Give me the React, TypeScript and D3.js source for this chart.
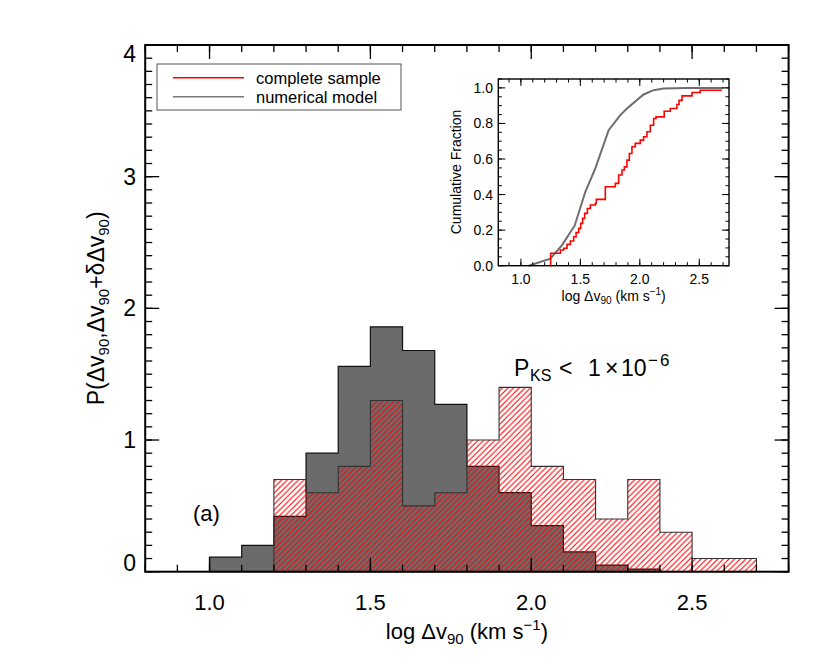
import React from 'react';
import * as d3 from 'd3';

// histogram bins (left edges, width 0.1)
const modelBinStart = 1.0;
const modelVals = [0.11, 0.2, 0.42, 0.9, 1.56, 1.86, 1.68, 1.27, 0.8, 0.6, 0.35, 0.15, 0.05, 0.02];
const sampleBinStart = 1.2;
const sampleVals = [0.7, 0.6, 0.8, 1.3, 0.5, 0.6, 1.0, 1.4, 0.8, 0.7, 0.4, 0.7, 0.3, 0.1, 0.1];
const binWidth = 0.1;

// inset: cumulative fractions
const sampleCdfX = [1.248, 1.25, 1.332, 1.36, 1.388, 1.416, 1.444, 1.464, 1.486, 1.503, 1.519, 1.536, 1.559, 1.584,
  1.626, 1.634, 1.71, 1.794, 1.822, 1.85, 1.87, 1.892, 1.912, 1.934, 1.962, 2.004, 2.032, 2.06, 2.088, 2.116, 2.136,
  2.205, 2.256, 2.312, 2.33, 2.355, 2.439, 2.508, 2.69];
const sampleCdfY = [0.0, 0.07, 0.088, 0.098, 0.12, 0.139, 0.163, 0.186, 0.21, 0.238, 0.266, 0.294, 0.322, 0.341,
  0.35, 0.373, 0.444, 0.463, 0.51, 0.538, 0.556, 0.594, 0.631, 0.669, 0.688, 0.706, 0.725, 0.753, 0.79, 0.828, 0.837,
  0.869, 0.884, 0.907, 0.93, 0.955, 0.974, 0.987, 0.987];
const modelCdfX = [1.066, 1.248, 1.346, 1.452, 1.542, 1.626, 1.738, 1.836, 1.892, 2.032, 2.116, 2.2, 2.4, 2.704];
const modelCdfY = [0.0, 0.04, 0.116, 0.225, 0.416, 0.547, 0.762, 0.847, 0.884, 0.963, 0.987, 0.997, 1.0, 1.0];

const xMajor = [1.0, 1.5, 2.0, 2.5];
const yMajor = [0, 1, 2, 3, 4];
const insetYMajor = [0, 0.2, 0.4, 0.6, 0.8, 1.0];
const legendLabels = ['complete sample', 'numerical model'];

const FONT = '"Liberation Sans", Arial, Helvetica, sans-serif';
const RED = '#ff0000';
const GRAY = '#6b6b6b';

function stepPath(start: number, vals: number[], x: any, y: any) {
  const pts: [number, number][] = [[start, 0]];
  vals.forEach((v, i) => {
    pts.push([start + i * binWidth, v]);
    pts.push([start + (i + 1) * binWidth, v]);
  });
  pts.push([start + vals.length * binWidth, 0]);
  return d3.line().x((d: any) => x(d[0])).y((d: any) => y(d[1]))(pts as any) + 'Z';
}

export default function App() {
  // main panel
  const x = d3.scaleLinear().domain([0.8, 2.8]).range([145.2, 788.6]);
  const y = d3.scaleLinear().domain([0, 4]).range([571.7, 45]);
  const [x0, x1] = x.range();
  const [y0, y1] = y.range();

  // inset
  const ix = d3.scaleLinear().domain([0.81, 2.75]).range([498.3, 729]);
  const iy = d3.scaleLinear().domain([0, 1.05]).range([265.7, 79]);

  const xMinor = d3.range(8, 29).map(i => i / 10);
  const yMinor = d3.range(0, 41).map(i => i / 10);
  const ixMinor = d3.range(9, 28).map(i => i / 10);
  const iyMinor = d3.range(0, 22).map(i => i / 20);

  const modelPath = stepPath(modelBinStart, modelVals, x, y);
  const samplePath = stepPath(sampleBinStart, sampleVals, x, y);

  const sampleLine = d3.line<number>()
    .x(i => ix(sampleCdfX[i]))
    .y(i => iy(sampleCdfY[i]))
    .curve(d3.curveStepAfter)(d3.range(sampleCdfX.length));
  const modelLine = d3.line<number>()
    .x(i => ix(modelCdfX[i]))
    .y(i => iy(modelCdfY[i]))(d3.range(modelCdfX.length));

  return (
    <svg width={830} height={664} style={{ position: 'absolute', left: 0, top: 0 }} fontFamily={FONT}>
      <defs>
        <pattern id="hatch" patternUnits="userSpaceOnUse" width={5.6} height={5.6}>
          <path d="M-1.4,1.4 L1.4,-1.4 M0,5.6 L5.6,0 M4.2,7 L7,4.2" stroke={RED} strokeWidth={1.1} />
        </pattern>
      </defs>
      <rect width={830} height={664} fill="#fff" />

      {/* histograms */}
      <path d={modelPath} fill={GRAY} stroke="#111" strokeWidth={1.2} />
      <path d={samplePath} fill="url(#hatch)" stroke="#333" strokeWidth={1.1} />

      {/* main axes */}
      <g stroke="#000" strokeWidth={1.3}>
        {xMinor.map(v => (
          <g key={'xm' + v}>
            <line x1={x(v)} x2={x(v)} y1={y0} y2={y0 - 7} />
            <line x1={x(v)} x2={x(v)} y1={y1} y2={y1 + 7} />
          </g>
        ))}
        {xMajor.map(v => (
          <g key={'xM' + v}>
            <line x1={x(v)} x2={x(v)} y1={y0} y2={y0 - 14} />
            <line x1={x(v)} x2={x(v)} y1={y1} y2={y1 + 14} />
          </g>
        ))}
        {yMinor.map(v => (
          <g key={'ym' + v}>
            <line x1={x0} x2={x0 + 7} y1={y(v)} y2={y(v)} />
            <line x1={x1} x2={x1 - 7} y1={y(v)} y2={y(v)} />
          </g>
        ))}
        {yMajor.map(v => (
          <g key={'yM' + v}>
            <line x1={x0} x2={x0 + 14} y1={y(v)} y2={y(v)} />
            <line x1={x1} x2={x1 - 14} y1={y(v)} y2={y(v)} />
          </g>
        ))}
      </g>
      <rect x={x0} y={y1} width={x1 - x0} height={y0 - y1} fill="none" stroke="#000" strokeWidth={2} />

      <g fontSize={22} textAnchor="middle">
        {xMajor.map(v => (
          <text key={'xl' + v} x={x(v)} y={610}>{d3.format('.1f')(v)}</text>
        ))}
      </g>
      <g fontSize={23} textAnchor="end">
        {yMajor.map(v => {
          const yy = v === 0 ? y0 - 1 : v === 4 ? y1 + 17 : y(v) + 8;
          return <text key={'yl' + v} x={136} y={yy}>{v}</text>;
        })}
      </g>
      <text x={(x0 + x1) / 2} y={639} fontSize={22} textAnchor="middle">
        log Δv<tspan fontSize={15} dy={5}>90</tspan><tspan dy={-5}> (km s</tspan>
        <tspan fontSize={15} dy={-9}>−1</tspan><tspan dy={9}>)</tspan>
      </text>
      <text transform={`translate(104,${(y0 + y1) / 2}) rotate(-90)`} fontSize={23} textAnchor="middle">
        P(Δv<tspan fontSize={15} dy={5}>90</tspan><tspan dy={-5}>,Δv</tspan>
        <tspan fontSize={15} dy={5}>90</tspan><tspan dy={-5}>+δΔv</tspan>
        <tspan fontSize={15} dy={5}>90</tspan><tspan dy={-5}>)</tspan>
      </text>

      <text x={193} y={521} fontSize={22}>(a)</text>
      <text y={376} fontSize={23}>
        <tspan x={514}>P</tspan>
        <tspan x={530} dy={5} fontSize={16}>KS</tspan>
        <tspan x={559} dy={-5}>&lt;</tspan>
        <tspan x={588}>1</tspan>
        <tspan x={605}>×</tspan>
        <tspan x={621}>10</tspan>
        <tspan x={648} dy={-10} fontSize={17} letterSpacing={2}>−6</tspan>
      </text>

      {/* legend */}
      <rect x={157} y={64} width={244} height={46} fill="#fff" stroke="#555" strokeWidth={1} />
      <line x1={173} x2={244} y1={77.7} y2={77.7} stroke={RED} strokeWidth={1.6} />
      <line x1={173} x2={244} y1={96.7} y2={96.7} stroke="#777" strokeWidth={1.6} />
      <g fontSize={16.5}>
        <text x={256} y={83.5}>{legendLabels[0]}</text>
        <text x={256} y={102.5}>{legendLabels[1]}</text>
      </g>

      {/* inset */}
      <path d={modelLine ?? ''} fill="none" stroke="#6e6e6e" strokeWidth={2} />
      <path d={sampleLine ?? ''} fill="none" stroke={RED} strokeWidth={1.6} />
      <g stroke="#000" strokeWidth={1}>
        {ixMinor.map(v => (
          <g key={'ixm' + v}>
            <line x1={ix(v)} x2={ix(v)} y1={iy(0)} y2={iy(0) - 3.5} />
            <line x1={ix(v)} x2={ix(v)} y1={79} y2={82.5} />
          </g>
        ))}
        {xMajor.map(v => (
          <g key={'ixM' + v}>
            <line x1={ix(v)} x2={ix(v)} y1={iy(0)} y2={iy(0) - 7} />
            <line x1={ix(v)} x2={ix(v)} y1={79} y2={86} />
          </g>
        ))}
        {iyMinor.map(v => (
          <g key={'iym' + v}>
            <line x1={498.3} x2={501.8} y1={iy(v)} y2={iy(v)} />
            <line x1={729} x2={725.5} y1={iy(v)} y2={iy(v)} />
          </g>
        ))}
        {insetYMajor.map(v => (
          <g key={'iyM' + v}>
            <line x1={498.3} x2={505.3} y1={iy(v)} y2={iy(v)} />
            <line x1={729} x2={722} y1={iy(v)} y2={iy(v)} />
          </g>
        ))}
      </g>
      <rect x={498.3} y={79} width={729 - 498.3} height={265.7 - 79} fill="none" stroke="#000" strokeWidth={1.4} />
      <g fontSize={14} textAnchor="middle">
        {xMajor.map(v => (
          <text key={'ixl' + v} x={ix(v)} y={284}>{d3.format('.1f')(v)}</text>
        ))}
      </g>
      <g fontSize={14} textAnchor="end">
        {insetYMajor.map(v => (
          <text key={'iyl' + v} x={493} y={iy(v) + 5}>{d3.format('.1f')(v)}</text>
        ))}
      </g>
      <text x={(498.3 + 729) / 2} y={301} fontSize={14} textAnchor="middle">
        log Δv<tspan fontSize={10} dy={3}>90</tspan><tspan dy={-3}> (km s</tspan>
        <tspan fontSize={10} dy={-6}>−1</tspan><tspan dy={6}>)</tspan>
      </text>
      <text transform="translate(461,172) rotate(-90)" fontSize={14} textAnchor="middle">Cumulative Fraction</text>
    </svg>
  );
}
